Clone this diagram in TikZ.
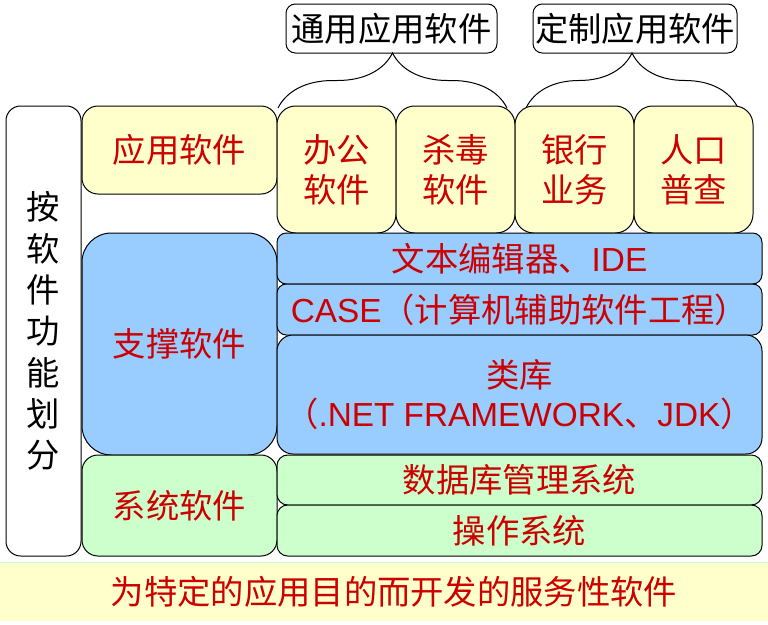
\documentclass[tikz,border=0pt]{standalone}
\usepackage{fontspec}
\setmainfont{Liberation Sans}
\newfontfamily\cjk{Noto Sans CJK SC}
\newcommand\lat{\rmfamily}
\usepackage{tikz}
\usetikzlibrary{decorations.pathreplacing}
\definecolor{appyellow}{HTML}{FFFFCC}
\definecolor{supblue}{HTML}{99CCFF}
\definecolor{sysgreen}{HTML}{CCFFCC}
\definecolor{labred}{HTML}{CC0000}
\tikzset{
  box/.style={draw,line width=0.75pt,inner sep=0pt,align=center,text=labred,
    font=\cjk\fontsize{25}{30}\selectfont},
  dims/.style 2 args={minimum width=#1*0.75pt,minimum height=#2*0.75pt},
  brc/.style={decorate,decoration={brace,amplitude=41.25pt},line width=0.75pt}
}

\begin{document}
\begin{tikzpicture}[x=0.75pt,y=-0.75pt]
\useasboundingbox (0,0) rectangle (768,625);

%put the braces and the labels on top
\coordinate (g1) at (278,108);
\coordinate (g2) at (507,108);
\coordinate (c1) at (526,108);
\coordinate (c2) at (738,108);
\draw[brc] (g1) -- (g2);
\draw[brc] (c1) -- (c2);
\node[box,dims={211}{49},rounded corners=7pt,text=black] (gen) at (391.5,28.5) {通用应用软件};
\node[box,dims={204}{49},rounded corners=7pt,text=black] (cus) at (635,28.5) {定制应用软件};

%put the column on the left
\node[box,dims={75}{450},rounded corners=11pt,fill=white,text=black,
  font=\cjk\fontsize{25}{31}\selectfont] (side) at (43.5,331) {按\\软\\件\\功\\能\\划\\分};
\node[box,dims={195}{88},fill=appyellow,rounded corners=12pt] (app) at (179.5,150) {应用软件};
\node[box,dims={195}{222},fill=supblue,rounded corners=22pt] (sup) at (179.5,344) {支撑软件};
\node[box,dims={195}{101},fill=sysgreen,rounded corners=12pt] (sys) at (179.5,505.5) {系统软件};

%put the application software boxes
\foreach \t [count=\i] in {办公\\软件,杀毒\\软件,银行\\业务,人口\\普查}{
	\node[box,dims={119}{127},fill=appyellow,rounded corners=14pt] (a\i) at ({336.5+119*(\i-1)},169.5) {\t};
}

%put the support and system layers on the right
\node[box,dims={485}{51},fill=supblue,rounded corners=7pt] (ide) at (519.5,258.5) {文本编辑器、{\lat IDE}};
\node[box,dims={485}{51},fill=supblue,rounded corners=7pt] (case) at (519.5,309.5) {{\lat CASE}（计算机辅助软件工程）};
\node[box,dims={485}{119},fill=supblue,rounded corners=12pt,
  font=\cjk\fontsize{25}{29}\selectfont] (lib) at (519.5,394.5) {类库\\（{\lat .NET FRAMEWORK}、{\lat JDK}）};
\node[box,dims={485}{50},fill=sysgreen,rounded corners=8pt] (db) at (519.5,480) {数据库管理系统};
\node[box,dims={485}{51},fill=sysgreen,rounded corners=8pt] (os) at (519.5,530.5) {操作系统};

%put the band at the bottom
\fill[appyellow] (0,563) rectangle (768,621);
\draw[sysgreen,line width=1pt] (0,562.5) -- (768,562.5);
\node[box,draw=none] (note) at (394,592) {为特定的应用目的而开发的服务性软件};
\end{tikzpicture}
\end{document}
